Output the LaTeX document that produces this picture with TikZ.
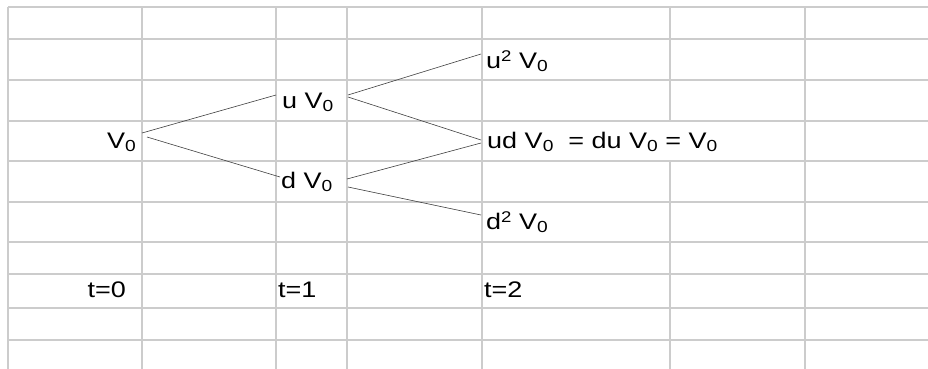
\documentclass[tikz,border=0pt]{standalone}
\usepackage{fontspec}
\setmainfont[FakeStretch=1.2]{Liberation Sans}
\newcommand\subz{\raisebox{-3.5pt}{\fontsize{16}{16}\selectfont 0}}
\newcommand\supt{\raisebox{6.5pt}{\fontsize{15.5}{16}\selectfont 2}}
\begin{document}
\begin{tikzpicture}[x=1pt,y=-1pt,
  grid/.style={draw=black!20, line width=1.6pt},
  lbl/.style={inner sep=0pt, font=\fontsize{22.5}{24}\selectfont},
  conn/.style={draw=black!75, line width=0.6pt}]
\useasboundingbox (0,0) rectangle (928,369);
\fill[white] (0,0) rectangle (928,369);
\foreach \y in {7,39,80,121,161,202,242,274,308,340} \draw[grid] (8,\y) -- (928,\y);
\foreach \x in {8,142,276,347,482,805} \draw[grid] (\x,7) -- (\x,369);
\draw[grid] (670,7) -- (670,121) (670,161) -- (670,369);
\node[lbl, anchor=base east] (v0) at (136,148) {V\subz};
\node[lbl, anchor=base west] (uv) at (282,108) {u V\subz};
\node[lbl, anchor=base west] (dv) at (281,188) {d V\subz};
\node[lbl, anchor=base west] (uuv) at (486,68) {u\supt\ V\subz};
\node[lbl, anchor=base west] (udv) at (487,148) {ud V\subz\ \ = du V\subz\ = V\subz};
\node[lbl, anchor=base west] (ddv) at (486,229) {d\supt\ V\subz};
\node[lbl, anchor=base east] (t0) at (126,297) {t=0};
\node[lbl, anchor=base west] (t1) at (278,297) {t=1};
\node[lbl, anchor=base west] (t2) at (484,297) {t=2};
\draw[conn] ([shift={(6,-15)}]v0.base east) -- ([shift={(-6,-13)}]uv.base west);
\draw[conn] ([shift={(11,-11)}]v0.base east) -- ([shift={(-1,-11)}]dv.base west);
\draw[conn] ([shift={(66,-13)}]uv.base west) -- ([shift={(-5,-14)}]uuv.base west);
\draw[conn] ([shift={(66,-11)}]uv.base west) -- ([shift={(-6,-8)}]udv.base west);
\draw[conn] ([shift={(66,-9)}]dv.base west) -- ([shift={(-6,-5)}]udv.base west);
\draw[conn] ([shift={(67,-1)}]dv.base west) -- ([shift={(-5,-14)}]ddv.base west);
\end{tikzpicture}
\end{document}
